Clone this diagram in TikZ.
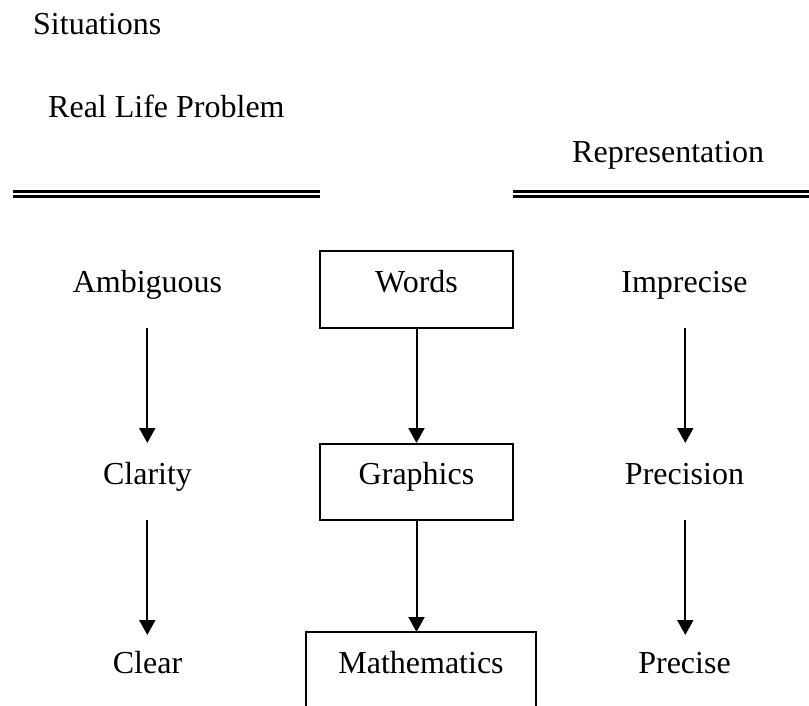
\documentclass[tikz,border=0pt]{standalone}
\usepackage{fontspec}
\setmainfont{Liberation Serif}
\usetikzlibrary{arrows.meta}
\tikzset{
  lbl/.style={font=\fontsize{32}{38}\selectfont, inner sep=0pt},
  boxnode/.style={draw, line width=2pt, minimum width=193pt, minimum height=77pt, inner sep=0pt, font=\fontsize{32}{38}\selectfont},
  arr/.style={line width=2pt, -{Triangle[width=16pt,length=15pt]}},
  dbl/.style={line width=2.6pt}
}
\begin{document}
\begin{tikzpicture}[x=1pt,y=-1pt]
\useasboundingbox (0,0) rectangle (809,706);
\clip (0,0) rectangle (809,706);
% top texts
\node[lbl, anchor=base west] (sit) at (33,35) {Situations};
\node[lbl, anchor=base west] (rlp) at (48,118) {Real Life Problem};
\node[lbl, anchor=base west] (rep) at (572,163) {Representation};
% double lines
\coordinate (l1a) at (12.7,191.3); \coordinate (l1b) at (320,191.3);
\coordinate (l2a) at (12.7,196.8); \coordinate (l2b) at (320,196.8);
\coordinate (r1a) at (512.7,191.3); \coordinate (r1b) at (809,191.3);
\coordinate (r2a) at (512.7,196.8); \coordinate (r2b) at (809,196.8);
\draw[dbl] (l1a) -- (l1b);
\draw[dbl] (l2a) -- (l2b);
\draw[dbl] (r1a) -- (r1b);
\draw[dbl] (r2a) -- (r2b);
% centre column
\node[boxnode, text height=25pt, text depth=20pt] (words) at (416.5,289.5) {Words};
\node[boxnode, minimum height=76pt, text height=24pt, text depth=20pt] (graphics) at (416.5,482) {Graphics};
\coordinate (mtl) at (306,632);
\coordinate (mtr) at (536,632);
\coordinate (mbl) at (306,720);
\coordinate (mbr) at (536,720);
\draw[line width=2pt] (mbl) -- (mtl) -- (mtr) -- (mbr);
\node[lbl, anchor=base] (math) at (421,673) {Mathematics};
\coordinate (mtop) at (416.5,632);
\draw[arr] (words.south) -- (graphics.north);
\draw[arr] (graphics.south) -- (mtop);
% left column
\node[lbl, anchor=base] (amb) at (147.5,292) {Ambiguous};
\node[lbl, anchor=base] (cla) at (147.5,484) {Clarity};
\node[lbl, anchor=base] (clr) at (147.5,673) {Clear};
\coordinate (la1) at (147.3,328); \coordinate (la2) at (147.3,443);
\coordinate (lb1) at (147.3,520); \coordinate (lb2) at (147.3,635);
\draw[arr] (la1) -- (la2);
\draw[arr] (lb1) -- (lb2);
% right column
\node[lbl, anchor=base] (imp) at (684.5,292) {Imprecise};
\node[lbl, anchor=base] (prn) at (684.5,484) {Precision};
\node[lbl, anchor=base] (prc) at (684.5,673) {Precise};
\coordinate (ra1) at (685.3,328); \coordinate (ra2) at (685.3,443);
\coordinate (rb1) at (685.3,520); \coordinate (rb2) at (685.3,635);
\draw[arr] (ra1) -- (ra2);
\draw[arr] (rb1) -- (rb2);
\end{tikzpicture}
\end{document}
